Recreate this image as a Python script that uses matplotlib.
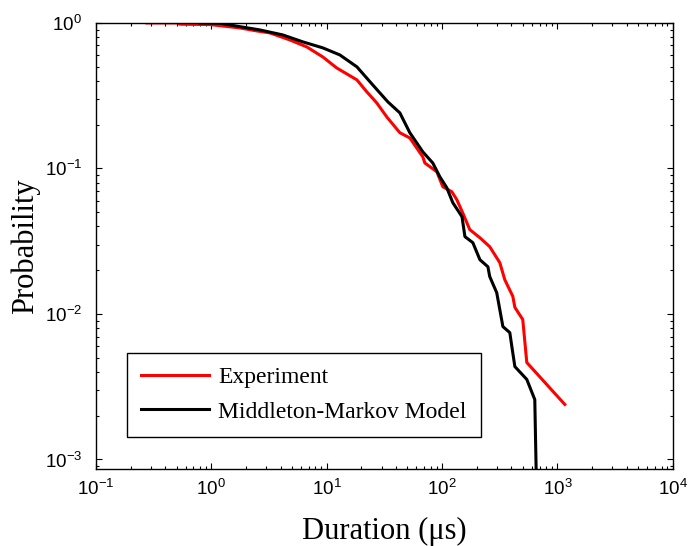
import numpy as np
import matplotlib
matplotlib.use('Agg')
import matplotlib.pyplot as plt

# Experiment
exp_x = [0.277, 0.514, 0.535, 0.97, 1.77, 2.48, 3.22, 4.80, 6.73, 9.26, 12.2, 18.3,
         22.3, 27.2, 33.2, 43.1, 52.6, 68.2, 71.0, 90.2, 101.6, 121.6, 134.4, 151,
         174, 213, 259, 317, 350, 411, 428, 501, 543, 1159]
exp_y = [1.0, 1.0, 0.98, 0.975, 0.924, 0.881, 0.854, 0.764, 0.684, 0.584, 0.491, 0.406,
         0.336, 0.282, 0.226, 0.176, 0.162, 0.120, 0.109, 0.0949, 0.0749, 0.0692, 0.0610, 0.0496,
         0.0380, 0.0334, 0.0290, 0.0225, 0.0172, 0.0132, 0.0111, 0.00916, 0.00464, 0.00239]

# Middleton-Markov model
mod_x = [0.796, 1.19, 1.77, 2.64, 4.17, 6.22, 9.26, 13.0, 18.3, 25.1, 33.9, 43.1,
         52.6, 68.2, 83.2, 95.7, 110, 124, 149, 158, 185, 213, 250, 259, 298, 317,
         337, 387, 403, 428, 543, 637, 663]
mod_y = [1.0, 0.995, 0.943, 0.895, 0.827, 0.741, 0.674, 0.603, 0.499, 0.375, 0.287, 0.241,
         0.176, 0.130, 0.109, 0.0877, 0.0737, 0.0582, 0.0466, 0.0340, 0.0309, 0.0236, 0.0211, 0.0181, 0.0140, 0.0107,
         0.00819, 0.00744, 0.00597, 0.00435, 0.00355, 0.00258, 0.0005]

plt.rcParams['font.family'] = 'Liberation Sans'

fig = plt.figure(figsize=(6.9, 5.46), dpi=100)
ax = fig.add_axes([0.139, 0.141, 0.836, 0.817])

ax.plot(exp_x, exp_y, color='#ff0000', lw=2.2, label='Experiment')
ax.plot(mod_x, mod_y, color='black', lw=2.2, label='Middleton-Markov Model')

ax.set_xscale('log')
ax.set_yscale('log')
ax.set_xlim(0.1, 1e4)
ax.set_ylim(8.6e-4, 1)

ax.tick_params(which='both', direction='in', top=True, right=True, labelsize=13.5, width=0.8)
ax.tick_params(which='major', length=4)
ax.tick_params(which='minor', length=2.5)
ax.tick_params(axis='x', which='major', pad=7)
ax.tick_params(axis='y', which='major', pad=10)
for s in ax.spines.values():
    s.set_linewidth(1.0)

ax.set_xlabel('Duration (\u03bcs)', fontfamily='Liberation Serif', fontsize=22, va='center')
ax.set_ylabel('Probability', fontfamily='Liberation Serif', fontsize=22, va='center')
ax.xaxis.set_label_coords(0.5, -0.14)
ax.yaxis.set_label_coords(-0.123, 0.5)

leg = ax.legend(loc='lower left', bbox_to_anchor=(0.054, 0.072), borderaxespad=0,
                prop={'family': 'Liberation Serif', 'size': 17}, fancybox=False,
                edgecolor='black', framealpha=1, handlelength=2.85, handletextpad=0.4,
                borderpad=0.6, labelspacing=0.55)
leg.get_frame().set_linewidth(1.0)

fig.savefig('out.png', dpi=100)
